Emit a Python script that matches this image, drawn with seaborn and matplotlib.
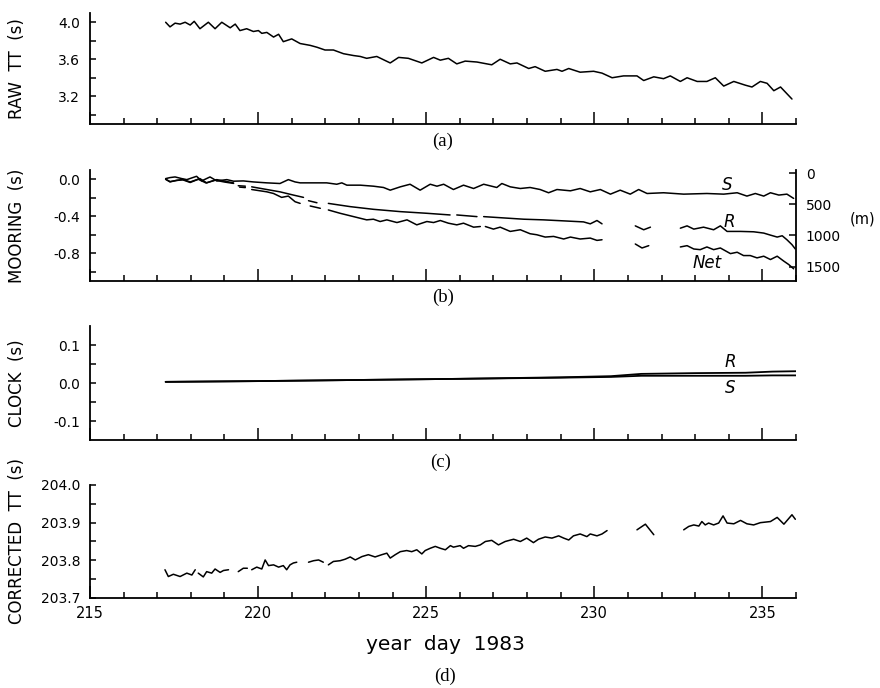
import numpy as np
import pandas as pd
import matplotlib
matplotlib.use("Agg")
import matplotlib.pyplot as plt
from matplotlib.ticker import MultipleLocator, FixedLocator
import seaborn as sns

nan = np.nan

# ---------------- data ----------------
# (a) raw travel time
raw_day = [217.25, 217.38, 217.53, 217.68, 217.83, 217.98, 218.10, 218.27, 218.52, 218.72,
           218.92, 219.17, 219.32, 219.46, 219.66, 219.86, 220.01, 220.11, 220.26, 220.46,
           220.61, 220.75, 221.00, 221.25, 221.55, 221.75, 221.99, 222.24, 222.54, 222.84,
           223.04, 223.23, 223.53, 223.93, 224.18, 224.47, 224.87, 225.22, 225.42, 225.66,
           225.91, 226.16, 226.51, 226.95, 227.20, 227.50, 227.70, 228.05, 228.24, 228.54,
           228.89, 229.04, 229.24, 229.58, 229.98, 230.23, 230.53, 230.87, 231.27, 231.47,
           231.77, 232.06, 232.26, 232.56, 232.76, 233.06, 233.35, 233.60, 233.85, 234.15,
           234.49, 234.69, 234.94, 235.14, 235.34, 235.54, 235.88]
raw_tt = [4.00, 3.95, 3.99, 3.98, 4.00, 3.97, 4.01, 3.93, 4.00, 3.93,
          4.00, 3.94, 3.98, 3.91, 3.93, 3.90, 3.91, 3.88, 3.89, 3.84,
          3.87, 3.79, 3.82, 3.77, 3.75, 3.73, 3.70, 3.70, 3.66, 3.64,
          3.63, 3.61, 3.63, 3.56, 3.62, 3.61, 3.56, 3.62, 3.59, 3.61,
          3.55, 3.58, 3.57, 3.54, 3.60, 3.55, 3.56, 3.50, 3.52, 3.47,
          3.49, 3.47, 3.50, 3.46, 3.47, 3.45, 3.40, 3.42, 3.42, 3.37,
          3.41, 3.39, 3.42, 3.36, 3.40, 3.36, 3.36, 3.40, 3.31, 3.36,
          3.32, 3.30, 3.36, 3.34, 3.26, 3.30, 3.17]

# (b) mooring corrections: S, R, Net
s_day = [217.25, 217.38, 217.53, 217.73, 217.88, 218.17, 218.32, 218.57, 218.77, 219.07,
         219.27, 219.56, 219.86, 220.26, 220.65, 220.90, 221.10, 221.25, 221.65, 222.04,
         222.34, 222.49, 222.64, 223.04, 223.43, 223.73, 223.93, 224.23, 224.52, 224.82,
         225.12, 225.32, 225.52, 225.81, 226.11, 226.41, 226.71, 227.10, 227.25, 227.50,
         227.80, 228.09, 228.39, 228.64, 228.89, 229.29, 229.58, 229.88, 230.18, 230.48,
         230.77, 231.07, 231.32, 231.57, 232.06, 232.66, 233.35, 233.85, 234.25, 234.54,
         234.79, 235.04, 235.24, 235.49, 235.73, 235.93]
s_val = [0.007, 0.018, 0.025, 0.007, -0.004, 0.032, -0.018, 0.025, -0.018, -0.004,
         -0.021, -0.018, -0.029, -0.039, -0.046, -0.004, -0.029, -0.039, -0.039, -0.039,
         -0.054, -0.039, -0.064, -0.064, -0.075, -0.089, -0.118, -0.082, -0.054, -0.118,
         -0.054, -0.075, -0.054, -0.111, -0.064, -0.100, -0.054, -0.089, -0.046, -0.082,
         -0.100, -0.089, -0.111, -0.146, -0.111, -0.125, -0.100, -0.136, -0.111, -0.161,
         -0.118, -0.161, -0.111, -0.154, -0.146, -0.161, -0.154, -0.161, -0.146, -0.182,
         -0.154, -0.182, -0.146, -0.171, -0.161, -0.207]

r_day = [217.25, 217.38, 217.58, 217.78, 217.98, 218.27, 218.47, 218.77, 219.07, 219.27,
         nan, 219.41, 219.62, nan, 219.81, 220.26, 220.65, 221.05, 221.35, nan,
         221.50, 221.75, nan, 222.09, 222.74, 223.43, 224.23, 225.02, 225.71, nan,
         225.91, 226.51, nan, 226.71, 227.30, 227.90, 228.49, 229.09, 229.68, 229.88,
         230.08, 230.23, nan, 231.22, 231.47, 231.67, nan, 232.56, 232.76, 232.96,
         233.25, 233.55, 233.75, 233.95, 234.35, 234.74, 235.04, 235.24, 235.44, 235.59,
         235.73, 235.88, 235.98]
r_val = [0.0, -0.029, -0.011, -0.004, -0.029, 0.007, -0.039, -0.004, -0.025, -0.040,
         nan, -0.070, -0.075, nan, -0.082, -0.111, -0.136, -0.171, -0.196, nan,
         -0.232, -0.254, nan, -0.261, -0.296, -0.325, -0.350, -0.368, -0.386, nan,
         -0.386, -0.404, nan, -0.404, -0.418, -0.432, -0.439, -0.450, -0.461, -0.482,
         -0.446, -0.482, nan, -0.504, -0.546, -0.518, nan, -0.529, -0.504, -0.539,
         -0.518, -0.546, -0.504, -0.564, -0.564, -0.568, -0.582, -0.604, -0.625, -0.611,
         -0.654, -0.707, -0.754]

net_day = [217.25, 217.38, 217.55, 217.75, 217.98, 218.22, 218.45, 218.72, 219.00, 219.27,
           nan, 219.45, 219.62, nan, 219.81, 220.26, 220.46, 220.70, 220.90, 221.10,
           221.25, nan, 221.55, 221.85, nan, 222.09, 222.44, 222.84, 223.23, 223.43,
           223.63, 223.83, 224.13, 224.43, 224.72, 225.02, 225.22, 225.42, 225.66, 225.91,
           226.11, 226.41, 226.61, nan, 226.76, 227.00, 227.20, 227.50, 227.80, 228.09,
           228.29, 228.54, 228.79, 229.09, 229.29, 229.58, 229.88, 230.08, 230.23, nan,
           231.22, 231.42, 231.62, nan, 232.56, 232.76, 232.96, 233.15, 233.35, 233.55,
           233.75, 234.05, 234.25, 234.44, 234.64, 234.84, 235.04, 235.24, 235.44, 235.64,
           235.78, 235.93]
net_val = [0.0, -0.025, -0.015, -0.005, -0.035, 0.0, -0.040, -0.010, -0.030, -0.045,
           nan, -0.085, -0.090, nan, -0.111, -0.136, -0.154, -0.196, -0.182, -0.243,
           -0.261, nan, -0.289, -0.314, nan, -0.332, -0.368, -0.404, -0.439, -0.432,
           -0.457, -0.439, -0.468, -0.439, -0.493, -0.457, -0.468, -0.446, -0.475, -0.493,
           -0.475, -0.518, -0.511, nan, -0.511, -0.539, -0.518, -0.564, -0.546, -0.589,
           -0.600, -0.625, -0.618, -0.646, -0.625, -0.646, -0.636, -0.661, -0.654, nan,
           -0.700, -0.743, -0.718, nan, -0.732, -0.718, -0.754, -0.761, -0.732, -0.761,
           -0.743, -0.804, -0.789, -0.825, -0.825, -0.850, -0.832, -0.868, -0.832, -0.886,
           -0.921, -0.968]

depth_ticks = [0, 500, 1000, 1500]

# (c) clock corrections
clk_day = [217.25, 220.0, 223.0, 226.0, 229.0, 230.5, 231.4, 233.0, 234.5, 235.3, 236.0]
clk_r = [0.003, 0.005, 0.008, 0.011, 0.015, 0.018, 0.024, 0.026, 0.027, 0.030, 0.031]
clk_s = [0.003, 0.005, 0.008, 0.011, 0.014, 0.016, 0.019, 0.019, 0.019, 0.020, 0.020]

# (d) corrected travel time
cor_day = [217.23, 217.33, 217.48, 217.68, 217.88, 218.03, 218.13, nan,
           218.22, 218.37, 218.47, 218.62, 218.72, 218.87, 218.97, 219.12, nan,
           219.41, 219.56, 219.68, nan,
           219.81, 219.96, 220.11, 220.21, 220.31, 220.46, 220.61, 220.75, 220.85, 220.95,
           221.05, 221.15, nan,
           221.50, 221.65, 221.80, 221.94, nan,
           222.09, 222.24, 222.44, 222.59, 222.74, 222.89, 223.09, 223.28, 223.48, 223.68,
           223.83, 223.93, 224.08, 224.23, 224.42, 224.57, 224.72, 224.87, 224.97, 225.12,
           225.27, 225.42, 225.57, 225.72, 225.81, 226.01, 226.11, 226.26, 226.46, 226.61,
           226.76, 226.95, 227.15, 227.35, 227.60, 227.80, 227.99, 228.19, 228.34, 228.54,
           228.74, 228.94, 229.09, 229.24, 229.38, 229.58, 229.78, 229.88, 230.08, 230.23,
           230.38, nan,
           231.27, 231.52, 231.77, nan,
           232.66, 232.81, 232.96, 233.11, 233.20, 233.30, 233.40, 233.55, 233.70, 233.83,
           233.95, 234.15, 234.35, 234.54, 234.74, 234.94, 235.24, 235.44, 235.64, 235.88,
           235.98]
cor_tt = [203.775, 203.757, 203.763, 203.757, 203.766, 203.761, 203.775, nan,
          203.766, 203.756, 203.770, 203.766, 203.777, 203.768, 203.773, 203.775, nan,
          203.770, 203.779, 203.779, nan,
          203.775, 203.782, 203.777, 203.801, 203.786, 203.788, 203.782, 203.786, 203.775, 203.788,
          203.793, 203.795, nan,
          203.795, 203.799, 203.801, 203.795, nan,
          203.788, 203.797, 203.799, 203.803, 203.809, 203.801, 203.810, 203.815, 203.809, 203.815,
          203.819, 203.806, 203.815, 203.823, 203.826, 203.823, 203.828, 203.817, 203.826, 203.832,
          203.837, 203.832, 203.828, 203.839, 203.835, 203.839, 203.832, 203.839, 203.837, 203.841,
          203.850, 203.853, 203.841, 203.850, 203.856, 203.850, 203.859, 203.847, 203.856, 203.862,
          203.859, 203.865, 203.859, 203.854, 203.865, 203.870, 203.863, 203.870, 203.865, 203.870,
          203.879, nan,
          203.881, 203.896, 203.868, nan,
          203.881, 203.890, 203.894, 203.891, 203.903, 203.894, 203.899, 203.894, 203.899, 203.918,
          203.899, 203.897, 203.906, 203.897, 203.894, 203.900, 203.903, 203.914, 203.896, 203.921,
          203.909]

x_major = [215, 220, 225, 230, 235]

# ---------------- style ----------------
sns.set_style("ticks")
plt.rcParams['font.family'] = ['DejaVu Sans']
plt.rcParams.update({
    'axes.linewidth': 1.3,
    'axes.edgecolor': 'black',
    'axes.labelcolor': 'black',
    'text.color': 'black',
    'xtick.direction': 'in',
    'ytick.direction': 'in',
    'xtick.color': 'black',
    'ytick.color': 'black',
})

W_PX, H_PX = 880, 688
fig = plt.figure(figsize=(W_PX / 100, H_PX / 100), dpi=100)
LEFT, RIGHT = 90, 796


def add_ax(top, bottom):
    return fig.add_axes([LEFT / W_PX, 1 - bottom / H_PX,
                         (RIGHT - LEFT) / W_PX, (bottom - top) / H_PX])


def segments(x, y):
    x = np.asarray(x, float)
    y = np.asarray(y, float)
    brk = np.isnan(x) | np.isnan(y)
    seg = np.cumsum(brk)
    df = pd.DataFrame({'day': x, 'val': y, 'seg': seg})
    return df[~brk]


def draw(ax, x, y, lw=1.1):
    sns.lineplot(data=segments(x, y), x='day', y='val', units='seg',
                 estimator=None, sort=False, color='black', lw=lw, ax=ax)


def style(ax, ylim, ymajor, yminor, ylabel, fmt, show_x=False):
    ax.set_xlim(215, 236)
    ax.set_ylim(*ylim)
    ax.xaxis.set_major_locator(FixedLocator(x_major))
    ax.xaxis.set_minor_locator(MultipleLocator(1))
    ax.yaxis.set_major_locator(FixedLocator(ymajor))
    ax.yaxis.set_minor_locator(FixedLocator(yminor))
    ax.set_yticklabels([fmt.format(v) for v in ymajor])
    ax.tick_params(axis='x', which='major', length=9, width=1.1, labelsize=10.5, pad=6)
    ax.tick_params(axis='x', which='minor', length=4.5, width=1.1)
    ax.tick_params(axis='y', which='major', length=4, width=1.1, labelsize=10, pad=7)
    ax.tick_params(axis='y', which='minor', length=4, width=1.1)
    if not show_x:
        ax.tick_params(axis='x', labelbottom=False)
    for s in ('top', 'right'):
        ax.spines[s].set_visible(False)
    ax.set_xlabel('')
    ax.set_ylabel(ylabel, fontsize=12)
    ax.yaxis.set_label_coords(-0.09, 0.5)


axA = add_ax(13, 124)
axB = add_ax(170, 281)
axC = add_ax(326, 440)
axD = add_ax(485, 598)

# (a)
draw(axA, raw_day, raw_tt)
style(axA, (2.9, 4.1), [3.2, 3.6, 4.0], [3.0, 3.4, 3.8], 'RAW  TT  (s)', '{:.1f}')

# (b)
draw(axB, s_day, s_val)
draw(axB, r_day, r_val)
draw(axB, net_day, net_val)
style(axB, (-1.1, 0.1), [-0.8, -0.4, 0.0], [-1.0, -0.6, -0.2], 'MOORING  (s)', '{:.1f}')
axB2 = axB.twinx()
axB2.set_ylim(1730, -50)
axB2.yaxis.set_major_locator(FixedLocator(depth_ticks))
axB2.set_yticklabels([str(v) for v in depth_ticks])
axB2.tick_params(axis='y', which='major', direction='in', length=5, width=1.1,
                 labelsize=10, pad=7)
for s in ('top', 'left', 'bottom'):
    axB2.spines[s].set_visible(False)
axB2.spines['right'].set_linewidth(1.3)

# (c)
draw(axC, clk_day, clk_r, lw=1.3)
draw(axC, clk_day, clk_s, lw=1.3)
style(axC, (-0.15, 0.15), [-0.1, 0.0, 0.1], [-0.05, 0.05], 'CLOCK  (s)', '{:.1f}')

# (d)
draw(axD, cor_day, cor_tt)
style(axD, (203.7, 204.0), [203.7, 203.8, 203.9, 204.0], [203.75, 203.85, 203.95],
      'CORRECTED  TT  (s)', '{:.1f}', show_x=True)


def ftext(x, y, s, **kw):
    fig.text(x / W_PX, 1 - y / H_PX, s, ha='center', va='center', **kw)


serif = ['Liberation Serif', 'DejaVu Serif']
ftext(443, 141, '(a)', fontsize=13.5, family=serif)
ftext(443, 297, '(b)', fontsize=13.5, family=serif)
ftext(441, 462, '(c)', fontsize=13.5, family=serif)
ftext(445, 676, '(d)', fontsize=13.5, family=serif)
ftext(445, 645, 'year  day  1983', fontsize=14.5)

# curve labels
ftext(727, 185, 'S', fontsize=12, style='italic')
ftext(729, 222, 'R', fontsize=12, style='italic')
ftext(707, 263, 'Net', fontsize=12, style='italic')
ftext(730, 362, 'R', fontsize=12, style='italic')
ftext(730, 388, 'S', fontsize=12, style='italic')
ftext(863, 219, '(m)', fontsize=10.5)

fig.savefig('out.png', dpi=100)
